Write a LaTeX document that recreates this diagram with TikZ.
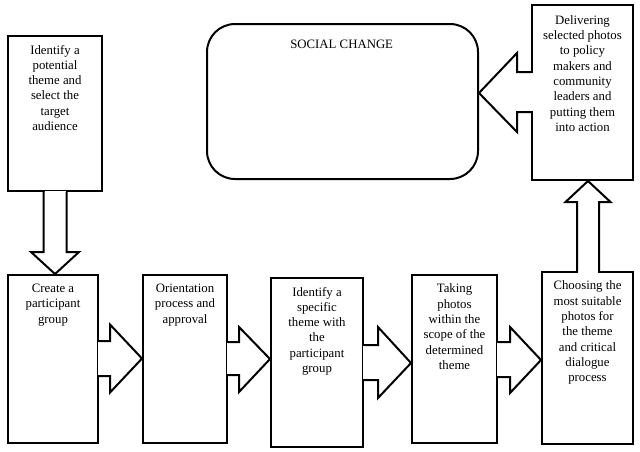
\documentclass[tikz,border=0pt]{standalone}
\usepackage{fontspec}
\setmainfont{Liberation Serif}
\begin{document}
\begin{tikzpicture}[x=1pt,y=-1pt,line width=2pt,
  box/.style={draw,rectangle,inner sep=0pt},
  txt/.style={anchor=north,inner sep=0pt,align=center,font=\fontsize{12.8}{15.3}\selectfont,yshift=-9pt},
  cover/.style={draw=white,line width=3pt},
  arr/.style={draw,line join=miter,miter limit=10}]
\useasboundingbox (0,0) rectangle (640,451);
% boxes
\node[box,minimum width=94pt,minimum height=155pt] (b1) at (55,113.5) {};
\node[box,minimum width=90pt,minimum height=168pt] (b2) at (53,359) {};
\node[box,minimum width=84pt,minimum height=168pt] (b3) at (185,359) {};
\node[box,minimum width=92pt,minimum height=169pt] (b4) at (317,362.5) {};
\node[box,minimum width=85pt,minimum height=168pt] (b5) at (454.5,359) {};
\node[box,minimum width=91pt,minimum height=172pt] (b6) at (587.5,358) {};
\node[box,minimum width=101pt,minimum height=175pt] (b7) at (582.5,92.5) {};
\node[box,rounded corners=28pt,minimum width=271pt,minimum height=155pt] (sc) at (342.5,101.5) {};
% texts
\node[txt] (t1) at (b1.north) {Identify a\\potential\\theme and\\select the\\target\\audience};
\node[txt] (t2) at (b2.north) {Create a\\participant\\group};
\node[txt] (t3) at (b3.north) {Orientation\\process and\\approval};
\node[txt] (t4) at (b4.north) {Identify a\\specific\\theme with\\the\\participant\\group};
\node[txt] (t5) at (b5.north) {Taking\\photos\\within the\\scope of the\\determined\\theme};
\node[txt] (t6) at (b6.north) {Choosing the\\most suitable\\photos for\\the theme\\and critical\\dialogue\\process};
\node[txt,yshift=-1.5pt] (t7) at (b7.north) {Delivering\\selected photos\\to policy\\makers and\\community\\leaders and\\putting them\\into action};
\node[txt,yshift=-7pt,xshift=-0.8pt] (t8) at (sc.north) {SOCIAL CHANGE};
% block arrows
\draw[cover] (b1.south -| 44.5,0) -- (b1.south -| 65.5,0);
\draw[arr] (b1.south -| 43.5,0) -- (43.5,252) -- (31,252) -- (b2.north -| 55,0) -- (79,252) -- (66.5,252) -- (b1.south -| 66.5,0);

\draw[cover] (b2.east |- 0,342) -- (b2.east |- 0,375);
\draw[arr] (b2.east |- 0,341) -- (110,341) -- (110,324.5) -- (b3.west |- 0,358.5) -- (110,392.5) -- (110,376) -- (b2.east |- 0,376);

\draw[cover] (b3.east |- 0,343) -- (b3.east |- 0,374);
\draw[arr] (b3.east |- 0,342) -- (239,342) -- (239,327) -- (b4.west |- 0,359) -- (239,392) -- (239,375) -- (b3.east |- 0,375);

\draw[cover] (b4.east |- 0,346) -- (b4.east |- 0,379);
\draw[arr] (b4.east |- 0,345) -- (378,345) -- (378,327) -- (b5.west |- 0,363) -- (378,398) -- (378,380) -- (b4.east |- 0,380);

\draw[cover] (b5.east |- 0,343) -- (b5.east |- 0,376);
\draw[arr] (b5.east |- 0,342) -- (510,342) -- (510,327) -- (b6.west |- 0,360) -- (510,393) -- (510,377) -- (b5.east |- 0,377);

\draw[cover] (b6.north -| 578,0) -- (b6.north -| 598,0);
\draw[arr] (b6.north -| 577,0) -- (577,202) -- (565.5,202) -- (b7.south -| 588,0) -- (610.5,202) -- (599,202) -- (b6.north -| 599,0);

\draw[cover] (b7.west |- 0,73) -- (b7.west |- 0,111);
\draw[arr] (b7.west |- 0,72) -- (517,72) -- (517,53) -- (sc.east |- 0,93) -- (517,132) -- (517,112) -- (b7.west |- 0,112);
\end{tikzpicture}
\end{document}
